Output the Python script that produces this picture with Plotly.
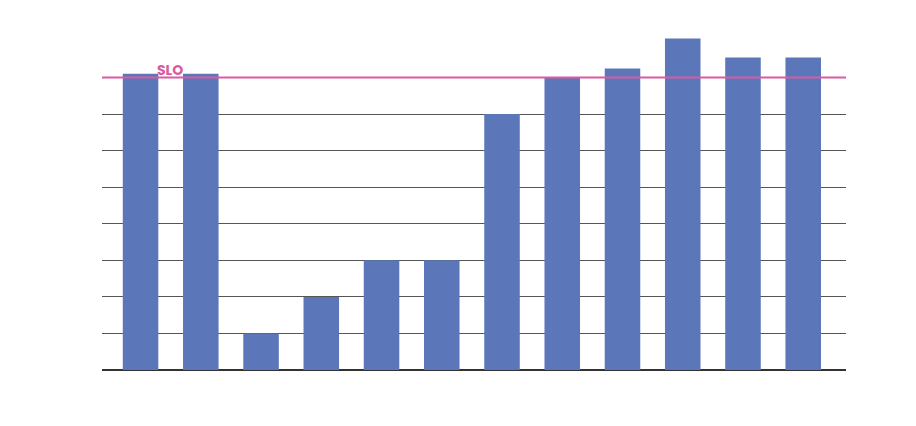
import plotly.graph_objects as go

categories = [f"C{i}" for i in range(1, 13)]
values = [8.1, 8.1, 1.0, 2.0, 3.0, 3.0, 7.0, 8.0, 8.25, 9.07, 8.55, 8.55]
slo_value = 8.0
slo_label = "SLO"
grid_ticks = [0, 1, 2, 3, 4, 5, 6, 7, 8]

fig = go.Figure()
fig.add_trace(go.Bar(
    x=list(range(len(categories))), y=values,
    marker=dict(color="#5b77ba", line=dict(width=0)),
    hoverinfo="skip",
))
fig.add_shape(type="line", xref="paper", x0=0, x1=1, yref="y", y0=slo_value, y1=slo_value,
              line=dict(color="#dc5a9f", width=2), layer="above")
fig.add_annotation(xref="paper", x=0.091, yref="y", y=slo_value, yanchor="bottom",
                   xanchor="center", yshift=-4, text=f"<b>{slo_label}</b>", showarrow=False,
                   font=dict(family="Poppins, Lato, Inter, sans-serif", size=14, color="#dc5a9f"))

fig.update_layout(
    width=916, height=426,
    margin=dict(l=94, r=78, t=22, b=64),
    plot_bgcolor="white", paper_bgcolor="white",
    bargap=0.41, showlegend=False,
    xaxis=dict(range=[-0.64, 11.71], showticklabels=False, showgrid=False, zeroline=False,
               showline=False, ticks=""),
    yaxis=dict(range=[0, 9.3], tickvals=grid_ticks, showticklabels=False, showgrid=True,
               gridcolor="#555555", gridwidth=1, zeroline=True, zerolinecolor="#333333",
               zerolinewidth=2, showline=False, ticks=""),
)
fig.write_html("out.html")
